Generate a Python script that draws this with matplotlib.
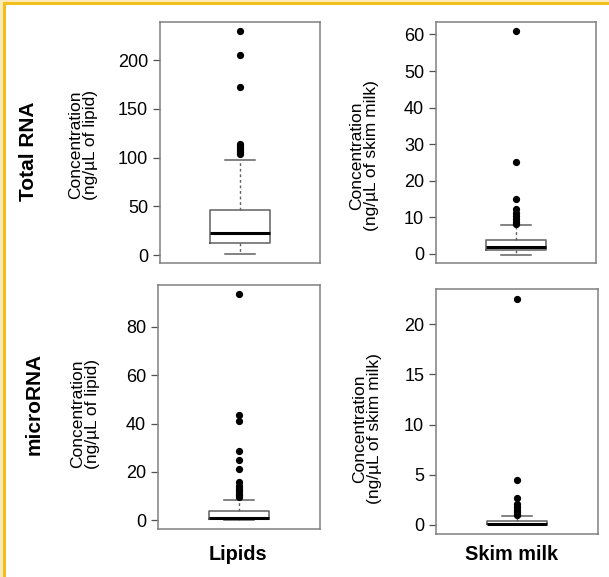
# RNA yield boxplots: total RNA and microRNA in lipid / skim milk fractions
import matplotlib
matplotlib.use("Agg")
import matplotlib.pyplot as plt
from matplotlib.patches import Rectangle

plt.rcParams["font.family"] = ["Liberation Sans", "DejaVu Sans"]

# ── Data ─────────────────────────────────────────────────────────────────────
# summary stats per panel: whisker low, Q1, median, Q3, whisker high
total_lipid_stats = [1.0, 12.0, 23.0, 46.0, 97.0]
total_lipid_out   = [230, 205, 172, 114, 112, 110, 108, 106, 104]

total_skim_stats  = [-0.2, 1.1, 1.8, 3.9, 7.8]
total_skim_out    = [61, 25.1, 15.1, 12.3, 11.2, 10.4, 9.6, 8.8, 8.2]

micro_lipid_stats = [0.0, 0.4, 1.0, 3.7, 8.4]
micro_lipid_out   = [93.6, 43.6, 41.2, 28.8, 24.9, 21.0, 15.9, 14.0,
                     13.0, 12.0, 11.0, 10.2, 9.6]

micro_skim_stats  = [0.0, 0.08, 0.12, 0.43, 0.93]
micro_skim_out    = [22.5, 4.45, 2.66, 2.1, 1.8, 1.5, 1.3, 1.1, 1.0]

row_labels = ["Total RNA", "microRNA"]
col_labels = ["Lipids", "Skim milk"]
ylabels    = ["Concentration\n(ng/µL of lipid)",
              "Concentration\n(ng/µL of skim milk)"]

panels = [
    # stats, outliers, ylim, ticks
    (total_lipid_stats, total_lipid_out, (-8.2, 239), range(0, 201, 50)),
    (total_skim_stats,  total_skim_out,  (-2.46, 63.4), range(0, 61, 10)),
    (micro_lipid_stats, micro_lipid_out, (-3.7, 97.4), range(0, 81, 20)),
    (micro_skim_stats,  micro_skim_out,  (-0.9, 23.5), range(0, 21, 5)),
]

W, H = 609, 577
fig = plt.figure(figsize=(W / 100, H / 100), dpi=100)

# axes boxes in pixels: left, top, right, bottom
boxes_px = [(160, 22, 320, 263), (436, 22, 596, 263),
            (158, 285, 320, 529), (436, 289, 598, 534)]

FRAME = "#808080"
EDGE = "#606060"

for (stats_, outl, ylim, ticks), (l, t, r, b) in zip(panels, boxes_px):
    ax = fig.add_axes([l / W, 1 - b / H, (r - l) / W, (b - t) / H])
    lo, q1, med, q3, hi = stats_
    ax.bxp([{"whislo": lo, "q1": q1, "med": med, "q3": q3,
             "whishi": hi, "fliers": outl}],
           positions=[1], widths=0.37, showcaps=True,
           boxprops=dict(color=EDGE, linewidth=1.1),
           medianprops=dict(color="black", linewidth=2.2),
           whiskerprops=dict(color=EDGE, linewidth=1.0,
                             linestyle=(0, (2, 2))),
           capprops=dict(color=EDGE, linewidth=1.1),
           flierprops=dict(marker="o", markersize=4.2,
                           markerfacecolor="black",
                           markeredgecolor="black"))
    ax.set_xlim(0.5, 1.5)
    ax.set_ylim(*ylim)
    ax.set_yticks(list(ticks))
    ax.set_xticks([])
    ax.tick_params(axis="y", length=5, width=0.9, color="#505050",
                   pad=3.5, labelsize=13)
    for sp in ax.spines.values():
        sp.set_color(FRAME)
        sp.set_linewidth(1.1)

# row labels (bold, rotated)
fig.text(28 / W, 1 - 151 / H, row_labels[0], rotation=90, ha="center",
         va="center", fontsize=15, fontweight="bold")
fig.text(34 / W, 1 - 404 / H, row_labels[1], rotation=90, ha="center",
         va="center", fontsize=15, fontweight="bold")

# y-axis labels
ylab_pos = [(83, 145, 0), (364, 156, 1), (85, 414, 0), (367, 429, 1)]
for x, y, k in ylab_pos:
    fig.text(x / W, 1 - y / H, ylabels[k], rotation=90, ha="center",
             va="center", fontsize=12.5, linespacing=0.95,
             multialignment="center")

# column labels
fig.text(238 / W, 1 - 560 / H, col_labels[0], ha="center", va="baseline",
         fontsize=14.3, fontweight="bold")
fig.text(512 / W, 1 - 560 / H, col_labels[1], ha="center", va="baseline",
         fontsize=14.3, fontweight="bold")

# yellow frame on top and left
fig.patches.append(Rectangle((0, 0), 3 / W, 1, transform=fig.transFigure,
                             facecolor="#FCE9B8", edgecolor="none"))
fig.patches.append(Rectangle((3 / W, 0), 3 / W, 1, transform=fig.transFigure,
                             facecolor="#F2BE1E", edgecolor="none"))
fig.patches.append(Rectangle((0, 1 - 2 / H), 1, 2 / H,
                             transform=fig.transFigure,
                             facecolor="#FCE9B8", edgecolor="none"))
fig.patches.append(Rectangle((3 / W, 1 - 5 / H), 1, 3 / H,
                             transform=fig.transFigure,
                             facecolor="#F2BE1E", edgecolor="none"))

fig.savefig("out.png", dpi=100)
